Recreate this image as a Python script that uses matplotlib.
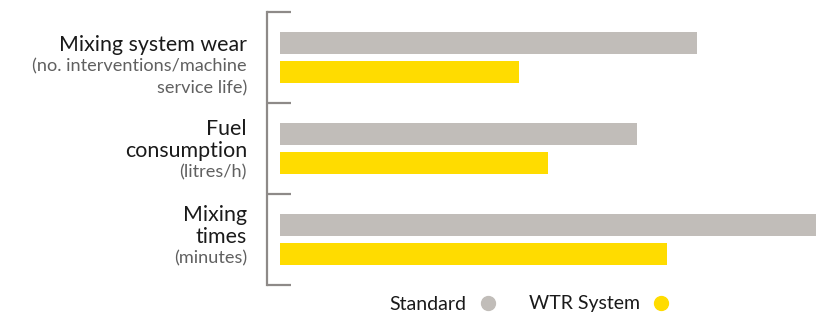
import matplotlib.pyplot as plt
from matplotlib.lines import Line2D
import numpy as np

categories = ["Mixing system wear", "Fuel\nconsumption", "Mixing\ntimes"]
subtitles = ["(no. interventions/machine\nservice life)", "(litres/h)", "(minutes)"]
standard = [77.8, 66.6, 100.0]
wtr = [44.6, 50.0, 72.2]
series_names = ["Standard", "WTR System"]

gray = "#C1BDB9"
yellow = "#FFDC00"
bracket = "#8E8A88"

plt.rcParams["font.family"] = ["Lato", "DejaVu Sans"]

W, H = 832, 313
fig = plt.figure(figsize=(W / 100, H / 100), dpi=100)
# axes spans the bracket: x 267..816 px, y 12..285 px
ax = fig.add_axes([267 / W, (H - 285) / H, (816 - 267) / W, 273 / H])

y = np.arange(len(categories))
bh = 0.242
off = 0.154
ax.barh(y - off, standard, height=bh, color=gray)
ax.barh(y + off, wtr, height=bh, color=yellow)

ax.set_xlim(-100 * 13 / 536, 100)
ax.set_ylim(2.5, -0.5)

for s in ["top", "right", "bottom"]:
    ax.spines[s].set_visible(False)
ax.spines["left"].set_color(bracket)
ax.spines["left"].set_linewidth(1.6)
ax.set_xticks([])
ax.set_yticks(np.arange(-0.5, len(categories), 1.0))
ax.set_yticklabels([])
ax.tick_params(axis="y", direction="in", length=17, width=1.6, color=bracket)

# category labels, right-aligned left of the bracket
label_x = (247 - 267) / (816 - 267)
block_shift = [9, 2, -3]
line_h = 21.5
for i, (t, sub) in enumerate(zip(categories, subtitles)):
    tl = t.split("\n")
    sl = sub.split("\n")
    n = len(tl) + len(sl)
    top = block_shift[i] - (n - 1) / 2 * line_h
    for k, line in enumerate(tl + sl):
        d = top + k * line_h
        is_title = k < len(tl)
        ax.annotate(line, xy=(label_x, i), xycoords=("axes fraction", "data"),
                    xytext=(0, -d), textcoords="offset pixels",
                    ha="right", va="center",
                    fontsize=15.4 if is_title else 13.1,
                    color="#1A1A1A" if is_title else "#606060")

handles = [Line2D([], [], ls="", marker="o", markersize=10, color=gray),
           Line2D([], [], ls="", marker="o", markersize=10, color=yellow)]
fig.legend(handles, series_names, ncol=2, frameon=False, markerfirst=False,
           loc="center", bbox_to_anchor=(530 / W, 9 / H), fontsize=14,
           handlelength=1.0, handletextpad=0.6, columnspacing=1.6,
           labelcolor="#1A1A1A")

fig.savefig("out.png", dpi=100)
